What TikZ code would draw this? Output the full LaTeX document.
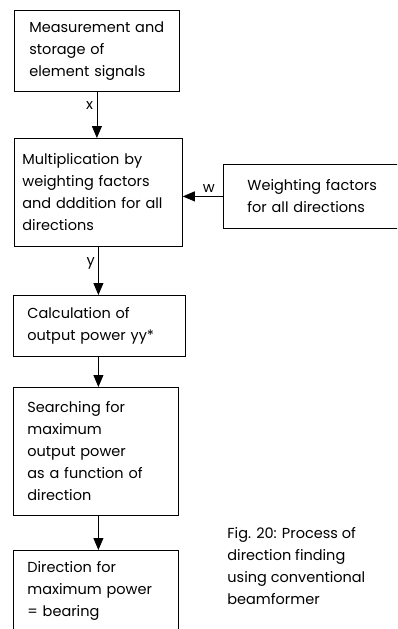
\documentclass[tikz,border=0pt]{standalone}
\usepackage{fontspec}
\setmainfont{Poppins}
\usetikzlibrary{arrows.meta}
\begin{document}
\begin{tikzpicture}[x=1pt,y=-1pt,line width=.8pt,
			font=\fontsize{14.5}{22}\selectfont,
			box/.style={draw,anchor=north west,align=left,inner ysep=0pt},
			flow/.style={-{Triangle[length=12pt,width=10pt]}}]
			\useasboundingbox (0,0) rectangle (397,629);
			\clip (0,0) rectangle (397,629);
			% boxes
			\node[box,inner xsep=15pt,text width=135pt,minimum height=81pt]
			(measure) at (14,10) {Measurement and\\storage of\\element signals};
			\node[box,inner xsep=8pt,text width=152pt,minimum height=108pt]
			(multiply) at (14,138) {Multiplication by\\weighting factors\\and dddition for all\\directions};
			\node[box,inner xsep=14pt,text width=144pt,minimum height=61pt]
			(power) at (13,295) {Calculation of\\output power yy*};
			\node[box,inner xsep=14pt,text width=137pt,minimum height=128pt]
			(search) at (13,387) {Searching for\\maximum\\output power\\as a function of\\direction};
			\node[box,inner xsep=14pt,text width=137pt,minimum height=82pt]
			(bearing) at (13,550) {Direction for\\maximum power\\= bearing};
			\node[box,inner xsep=24pt,text width=142pt,minimum height=64pt]
			(weights) at (223,164) {Weighting factors\\for all directions};
			\node[anchor=north west,align=left,inner sep=0pt]
			(caption) at (227,527) {Fig. 20: Process of\\direction finding\\using conventional\\beamformer};
			% arrows
			\draw[flow] (measure.south) -- node[pos=.3,left]{x} (measure.south |- multiply.north);
			\draw[flow] (multiply.south) -- node[pos=.35,left]{y} (multiply.south |- power.north);
			\draw[flow] (multiply.south |- power.south) -- (multiply.south |- search.north);
			\draw[flow] (multiply.south |- search.south) -- (multiply.south |- bearing.north);
			\draw[flow] (weights.west) -- node[pos=.35,above]{w} (weights.west -| multiply.east);
	\end{tikzpicture}
\end{document}
